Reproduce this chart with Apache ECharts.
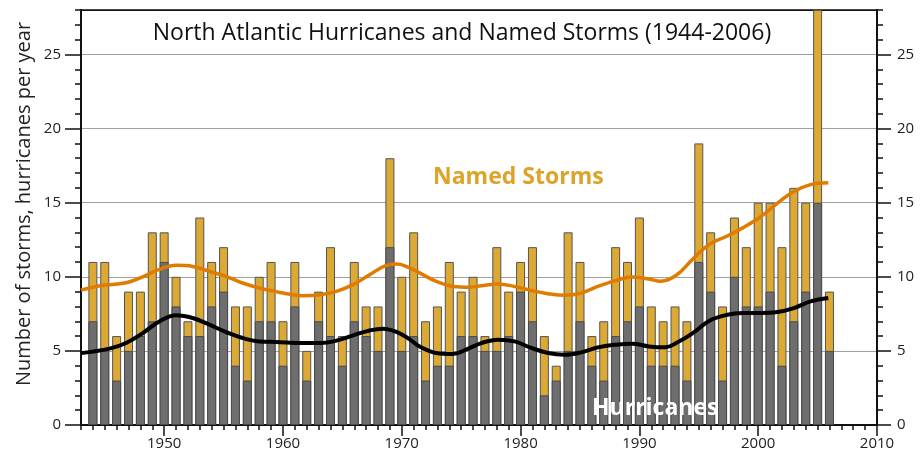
<!DOCTYPE html>
<html>
<head>
<meta charset="utf-8">
<script src="https://cdn.jsdelivr.net/npm/echarts@6/dist/echarts.min.js"></script>
<style>
  html, body { margin: 0; padding: 0; background: #fff; }
  #chart { width: 924px; height: 452px; }
</style>
</head>
<body>
<div id="chart"></div>
<script>
// seasons 1944-2006
const years = [];
for (let y = 1944; y <= 2006; y++) years.push(y);

const namedStorms = [
  11, 11, 6, 9, 9, 13, 13, 10, 7, 14, 11, 12, 8, 8, 10, 11,   // 1944-1959
  7, 11, 5, 9, 12, 6, 11, 8, 8, 18,                           // 1960-1969
  10, 13, 7, 8, 11, 9, 10, 6, 12, 9,                          // 1970-1979
  11, 12, 6, 4, 13, 11, 6, 7, 12, 11,                         // 1980-1989
  14, 8, 7, 8, 7, 19, 13, 8, 14, 12,                          // 1990-1999
  15, 15, 12, 16, 15, 28, 9                                   // 2000-2006
];
const hurricanes = [
  7, 5, 3, 5, 6, 7, 11, 8, 6, 6, 8, 9, 4, 3, 7, 7,
  4, 8, 3, 7, 6, 4, 7, 6, 5, 12,
  5, 6, 3, 4, 4, 6, 6, 5, 5, 6,
  9, 7, 2, 3, 5, 7, 4, 3, 6, 7,
  8, 4, 4, 4, 3, 11, 9, 3, 10, 8,
  8, 9, 4, 7, 9, 15, 5
];

// smoothed curves as [year, value]
const stormTrend = [
  [1943, 9.1], [1944.6, 9.4], [1946.8, 9.6], [1948.2, 10.0], [1949.6, 10.5],
  [1951, 10.77], [1952.4, 10.7], [1953.8, 10.37], [1955.2, 10.03], [1956.6, 9.58],
  [1958, 9.24], [1959.4, 9.0], [1960.3, 8.86], [1961.7, 8.72], [1963.1, 8.79],
  [1964.5, 9.02], [1965.9, 9.47], [1967.3, 10.14], [1968.7, 10.77], [1969.6, 10.86],
  [1970.7, 10.59], [1971.5, 10.26], [1972.9, 9.69], [1974.3, 9.35], [1975.7, 9.3],
  [1976.7, 9.4], [1978.1, 9.51], [1979.5, 9.35], [1980.9, 9.08], [1982.3, 8.86],
  [1983.7, 8.75], [1985.1, 8.9], [1986.5, 9.35], [1988, 9.74], [1989.4, 9.98],
  [1990.8, 9.85], [1991.8, 9.7], [1993.1, 10.1], [1994.5, 11.2], [1995.9, 12.2],
  [1997.4, 12.75], [1998.7, 13.3], [2000.2, 14.05], [2001.6, 14.95], [2003, 15.75],
  [2004.4, 16.22], [2005.9, 16.35]
];
const hurricaneTrend = [
  [1943, 4.85], [1945.4, 5.15], [1946.8, 5.53], [1948.2, 6.2], [1949.6, 6.99],
  [1951, 7.4], [1952.4, 7.22], [1953.8, 6.77], [1955.2, 6.27], [1956.6, 5.87],
  [1958, 5.64], [1959.4, 5.6], [1961.7, 5.53], [1963.1, 5.53], [1964.5, 5.69],
  [1965.9, 6.05], [1967.3, 6.38], [1968.4, 6.5], [1969.6, 6.27], [1970.7, 5.76],
  [1971.5, 5.3], [1972.9, 4.86], [1974.3, 4.79], [1975.5, 5.12], [1976.7, 5.53],
  [1978.1, 5.76], [1979.5, 5.64], [1980.9, 5.2], [1982.3, 4.86], [1983.7, 4.74],
  [1985.1, 4.9], [1986.5, 5.24], [1988, 5.42], [1989.4, 5.49], [1990.8, 5.3],
  [1992.2, 5.24], [1993.1, 5.53], [1994.5, 6.2], [1995.9, 7.04], [1997.4, 7.44],
  [1998.7, 7.56], [2000.2, 7.56], [2001.6, 7.62], [2003, 7.89], [2004.4, 8.34],
  [2005.9, 8.57]
];

const decadeTicks = [1950, 1960, 1970, 1980, 1990, 2000, 2010];
const countTicks = [0, 5, 10, 15, 20, 25];

const font = 'Open Sans';
const axisColor = '#111';

let chart = echarts.init(document.getElementById('chart'));

let option = {
  animation: false,
  grid: { left: 81, right: 47, top: 10, bottom: 27, show: true, borderColor: axisColor, borderWidth: 1.5 },
  xAxis: [
    {
      type: 'value', min: 1943, max: 2010, interval: 1, position: 'bottom',
      axisLine: { lineStyle: { color: axisColor, width: 2 } },
      axisTick: { length: 5, lineStyle: { color: axisColor, width: 1.5 } },
      axisLabel: { show: false },
      splitLine: { show: false }
    },
    {
      type: 'value', min: 1943, max: 2010, position: 'bottom',
      axisLine: { show: false },
      axisTick: { customValues: decadeTicks, length: 11, lineStyle: { color: axisColor, width: 1.5 } },
      axisLabel: {
        customValues: decadeTicks, fontFamily: font, fontSize: 15, color: '#222', margin: 11,
        formatter: v => String(v)
      },
      splitLine: { show: false }
    }
  ],
  yAxis: [
    {
      type: 'value', min: 0, max: 28, interval: 5, position: 'left',
      axisLine: { lineStyle: { color: axisColor, width: 2 } },
      axisTick: { show: false },
      axisLabel: { show: false },
      splitLine: { lineStyle: { color: ['#a0a0a0', '#a0a0a0', '#a0a0a0', '#a0a0a0', '#a0a0a0', '#a0a0a0', axisColor], width: 1 } }
    },
    {
      type: 'value', min: 0, max: 28, interval: 1, position: 'left',
      axisLine: { show: false },
      axisTick: { length: 6, lineStyle: { color: axisColor, width: 1.5 } },
      axisLabel: { show: false },
      splitLine: { show: false }
    },
    {
      type: 'value', min: 0, max: 28, position: 'left',
      axisLine: { show: false },
      axisTick: { customValues: countTicks, length: 16, lineStyle: { color: axisColor, width: 1.5 } },
      axisLabel: { customValues: countTicks, fontFamily: font, fontSize: 15, color: '#222', margin: 20 },
      splitLine: { show: false }
    },
    {
      type: 'value', min: 0, max: 28, interval: 1, position: 'right',
      axisLine: { lineStyle: { color: axisColor, width: 2 } },
      axisTick: { length: 6, lineStyle: { color: axisColor, width: 1.5 } },
      axisLabel: { show: false },
      splitLine: { show: false }
    },
    {
      type: 'value', min: 0, max: 28, position: 'right',
      axisLine: { show: false },
      axisTick: { customValues: countTicks, length: 14, lineStyle: { color: axisColor, width: 1.5 } },
      axisLabel: { customValues: countTicks, fontFamily: font, fontSize: 15, color: '#222', margin: 20 },
      splitLine: { show: false }
    }
  ],
  series: [
    {
      name: 'Named Storms',
      type: 'bar',
      barWidth: 9,
      data: years.map((y, i) => [y, namedStorms[i]]),
      itemStyle: { color: '#DBA934', borderColor: '#555', borderWidth: 1 },
      z: 2
    },
    {
      name: 'Hurricanes',
      type: 'bar',
      barWidth: 9,
      barGap: '-100%',
      data: years.map((y, i) => [y, hurricanes[i]]),
      itemStyle: { color: '#6E6E6E', borderColor: '#4a4a4a', borderWidth: 1 },
      z: 3
    },
    {
      name: 'Named Storms trend',
      type: 'line',
      smooth: 0.4,
      showSymbol: false,
      data: stormTrend,
      lineStyle: { color: '#E07B00', width: 3.5 },
      z: 5
    },
    {
      name: 'Hurricanes trend',
      type: 'line',
      smooth: 0.4,
      showSymbol: false,
      data: hurricaneTrend,
      lineStyle: { color: '#000', width: 4 },
      z: 6
    }
  ],
  graphic: [
    {
      type: 'text', left: 'center', top: 22, z: 10,
      style: { text: 'North Atlantic Hurricanes and Named Storms (1944-2006)', font: '23px "Open Sans"', fill: '#111' }
    },
    {
      type: 'text', x: 24, y: 204, rotation: Math.PI / 2, z: 10,
      style: { text: 'Number of storms, hurricanes per year', font: '20px "Open Sans"', fill: '#222', align: 'center', verticalAlign: 'middle' }
    },
    {
      type: 'text', x: 433, y: 177, z: 10,
      style: { text: 'Named Storms', font: 'bold 23px "Open Sans"', fill: '#DDA328', verticalAlign: 'middle' }
    },
    {
      type: 'text', x: 592, y: 408, z: 10,
      style: { text: 'Hurricanes', font: 'bold 23px "Open Sans"', fill: '#fff', verticalAlign: 'middle' }
    }
  ]
};
chart.setOption(option);
</script>
</body>
</html>
